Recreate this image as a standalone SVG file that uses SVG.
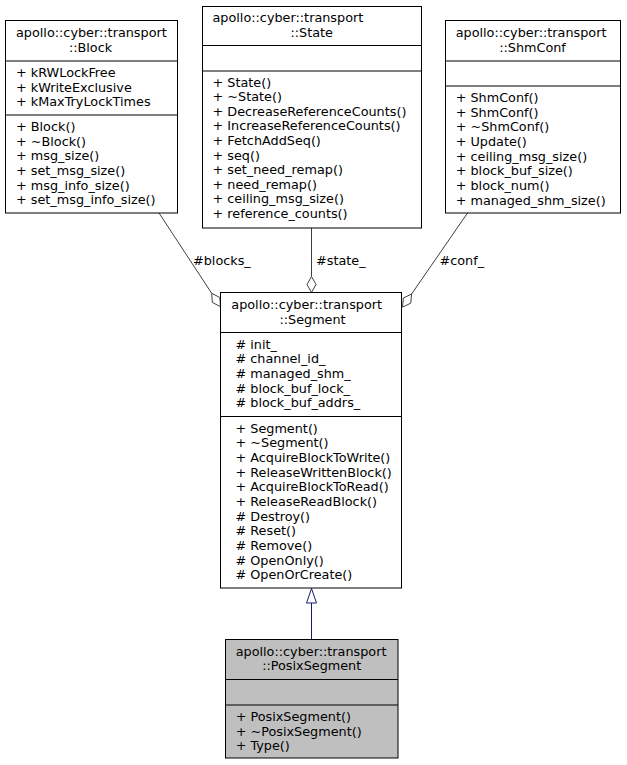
<svg xmlns="http://www.w3.org/2000/svg" width="627" height="765" viewBox="0 0 627 765">
<style>
text{font-family:"DejaVu Sans","Liberation Sans",sans-serif;font-size:12.8px;fill:#000}
.c{text-anchor:middle}
.box{fill:#fff;stroke:#000;stroke-width:1}
.sel{fill:#bfbfbf;stroke:#000;stroke-width:1}
.div{stroke:#000;stroke-width:1}
.use{stroke:#404040;stroke-width:1;fill:none}
.dia{stroke:#404040;stroke-width:1;fill:#fff}
.inh{stroke:#191970;stroke-width:1;fill:none}
.tri{stroke:#191970;stroke-width:1;fill:#fff}
</style>
<rect width="627" height="765" fill="#fff"/>
<g id="connectors">
<line class="use" x1="159" y1="213" x2="211.7" y2="293.3"/>
<polygon class="dia" points="211.7,293.3 219.85,297.52 220.48,306.68 212.33,302.46"/>
<text x="193" y="264.5">#blocks_</text>
<line class="use" x1="311.5" y1="228" x2="311.5" y2="276.5"/>
<polygon class="dia" points="311.5,276.5 316,284.5 311.5,292.5 307,284.5"/>
<text x="316" y="264.5">#state_</text>
<line class="use" x1="467.5" y1="213" x2="411.6" y2="294"/>
<polygon class="dia" points="411.6,294 410.75,303.14 402.5,307.15 403.35,298.02"/>
<text x="439.5" y="265">#conf_</text>
<line class="inh" x1="311.5" y1="603" x2="311.5" y2="639"/>
<polygon class="tri" points="311.5,588.5 316.5,603 306.5,603"/>
</g>
<g id="block">
<rect class="box" x="5.5" y="20.5" width="172" height="192.5"/>
<line class="div" x1="5.5" y1="61" x2="177.5" y2="61"/>
<line class="div" x1="5.5" y1="115" x2="177.5" y2="115"/>
<text x="16" y="37.3">apollo::cyber::transport</text>
<text class="c" x="90.5" y="51.8">::Block</text>
<text x="16" y="77">+ kRWLockFree</text>
<text x="16" y="91.65">+ kWriteExclusive</text>
<text x="16" y="106.3">+ kMaxTryLockTimes</text>
<text x="16" y="131">+ Block()</text>
<text x="16" y="145.65">+ ~Block()</text>
<text x="16" y="160.3">+ msg_size()</text>
<text x="16" y="174.95">+ set_msg_size()</text>
<text x="16" y="189.6">+ msg_info_size()</text>
<text x="16" y="204.25">+ set_msg_info_size()</text>
</g>
<g id="state">
<rect class="box" x="202.5" y="6.5" width="219" height="221.5"/>
<line class="div" x1="202.5" y1="45.5" x2="421.5" y2="45.5"/>
<line class="div" x1="202.5" y1="71" x2="421.5" y2="71"/>
<text x="212.5" y="22">apollo::cyber::transport</text>
<text class="c" x="311.7" y="36.5">::State</text>
<text x="212.5" y="86.5">+ State()</text>
<text x="212.5" y="101.1">+ ~State()</text>
<text x="212.5" y="115.7">+ DecreaseReferenceCounts()</text>
<text x="212.5" y="130.3">+ IncreaseReferenceCounts()</text>
<text x="212.5" y="144.9">+ FetchAddSeq()</text>
<text x="212.5" y="159.5">+ seq()</text>
<text x="212.5" y="174.1">+ set_need_remap()</text>
<text x="212.5" y="188.7">+ need_remap()</text>
<text x="212.5" y="203.3">+ ceiling_msg_size()</text>
<text x="212.5" y="217.9">+ reference_counts()</text>
</g>
<g id="shmconf">
<rect class="box" x="445.5" y="20.5" width="175" height="192.5"/>
<line class="div" x1="445.5" y1="61" x2="620.5" y2="61"/>
<line class="div" x1="445.5" y1="86" x2="620.5" y2="86"/>
<text x="455.7" y="37.3">apollo::cyber::transport</text>
<text class="c" x="532.5" y="51.8">::ShmConf</text>
<text x="455.7" y="102">+ ShmConf()</text>
<text x="455.7" y="116.65">+ ShmConf()</text>
<text x="455.7" y="131.3">+ ~ShmConf()</text>
<text x="455.7" y="145.95">+ Update()</text>
<text x="455.7" y="160.6">+ ceiling_msg_size()</text>
<text x="455.7" y="175.25">+ block_buf_size()</text>
<text x="455.7" y="189.9">+ block_num()</text>
<text x="455.7" y="204.55">+ managed_shm_size()</text>
</g>
<g id="segment">
<rect class="box" x="220.5" y="292.5" width="181" height="295.5"/>
<line class="div" x1="220.5" y1="332.5" x2="401.5" y2="332.5"/>
<line class="div" x1="220.5" y1="416.5" x2="401.5" y2="416.5"/>
<text x="231.3" y="309">apollo::cyber::transport</text>
<text class="c" x="312.5" y="323.5">::Segment</text>
<text x="235.5" y="348.7"># init_</text>
<text x="235.5" y="363.35"># channel_id_</text>
<text x="235.5" y="378"># managed_shm_</text>
<text x="235.5" y="392.65"># block_buf_lock_</text>
<text x="235.5" y="407.3"># block_buf_addrs_</text>
<text x="235.5" y="432.7">+ Segment()</text>
<text x="235.5" y="447.35">+ ~Segment()</text>
<text x="235.5" y="462">+ AcquireBlockToWrite()</text>
<text x="235.5" y="476.65">+ ReleaseWrittenBlock()</text>
<text x="235.5" y="491.3">+ AcquireBlockToRead()</text>
<text x="235.5" y="505.95">+ ReleaseReadBlock()</text>
<text x="235.5" y="520.6"># Destroy()</text>
<text x="235.5" y="535.25"># Reset()</text>
<text x="235.5" y="549.9"># Remove()</text>
<text x="235.5" y="564.55"># OpenOnly()</text>
<text x="235.5" y="579.2"># OpenOrCreate()</text>
</g>
<g id="posixsegment">
<rect class="sel" x="225.5" y="639.5" width="172.5" height="118.5"/>
<line class="div" x1="225.5" y1="679.5" x2="398" y2="679.5"/>
<line class="div" x1="225.5" y1="705" x2="398" y2="705"/>
<text x="235.7" y="655.7">apollo::cyber::transport</text>
<text class="c" x="311.7" y="670.2">::PosixSegment</text>
<text x="235.7" y="721">+ PosixSegment()</text>
<text x="235.7" y="735.65">+ ~PosixSegment()</text>
<text x="235.7" y="750.3">+ Type()</text>
</g>
</svg>
